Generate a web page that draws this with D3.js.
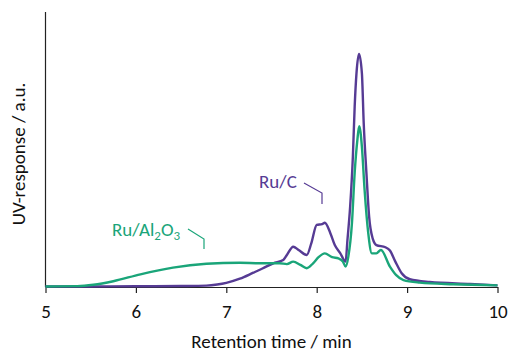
<!DOCTYPE html>
<html>
<head>
<meta charset="utf-8">
<script src="https://cdn.jsdelivr.net/npm/d3@7"></script>
<style>
  body { margin: 0; background: #fff; }
  text { font-family: Carlito, Lato, sans-serif; }
</style>
</head>
<body>
<svg id="chart" width="509" height="352"></svg>
<script>
// retention time (min) and UV response (a.u.)
var ruCTime = [5.0, 5.5, 6.0, 6.5, 6.78, 6.9, 7.0, 7.15, 7.3, 7.4, 7.52, 7.63, 7.67, 7.74, 7.8, 7.89, 7.94, 8.0, 8.06, 8.09, 8.15, 8.2, 8.26, 8.32, 8.34, 8.37, 8.4, 8.42, 8.44, 8.468, 8.5, 8.52, 8.55, 8.58, 8.62, 8.66, 8.76, 8.81, 8.87, 8.94, 9.03, 9.25, 9.7, 10.0]
var ruCValue = [0.2, 0.2, 0.25, 0.35, 0.5, 0.9, 1.5, 3.0, 5.2, 6.7, 8.6, 9.8, 11.6, 14.6, 13.4, 11.6, 15.8, 22.5, 22.8, 23.3, 19.6, 15.2, 12.3, 9.2, 17.0, 29.1, 47.2, 65.3, 77.4, 84.4, 77.4, 59.4, 41.3, 25.5, 17.5, 15.2, 14.4, 13.2, 9.2, 5.0, 2.8, 1.8, 1.1, 0.6]

var ruAlTime = [5.0, 5.35, 5.53, 5.75, 6.05, 6.41, 6.78, 7.15, 7.37, 7.59, 7.67, 7.74, 7.82, 7.89, 7.96, 8.02, 8.09, 8.17, 8.24, 8.29, 8.32, 8.35, 8.39, 8.42, 8.45, 8.47, 8.5, 8.53, 8.57, 8.61, 8.66, 8.71, 8.81, 8.88, 8.96, 9.14, 9.51, 10.0]
var ruAlValue = [0.2, 0.3, 0.8, 2.1, 4.6, 7.0, 8.4, 8.8, 8.6, 8.6, 8.3, 9.2, 8.0, 6.8, 8.6, 10.8, 12.2, 10.8, 10.4, 9.2, 7.4, 11.0, 23.2, 41.3, 53.3, 58.3, 50.8, 35.1, 19.6, 12.2, 12.2, 13.4, 7.4, 4.3, 2.5, 1.6, 1.0, 0.6]

var xTicks = [5, 6, 7, 8, 9, 10]

var purple = '#563b94'
var green = '#1aa579'

var svg = d3.select('#chart')

var x = d3.scaleLinear().domain([5, 10]).range([45.5, 497.5])
var y = d3.scaleLinear().domain([0, 100]).range([287, 11])

// x axis
var xAxis = d3.axisBottom(x)
  .tickValues(xTicks)
  .tickSize(6)
  .tickSizeOuter(0)
  .tickPadding(12)
  .tickFormat(d3.format('d'))

var gx = svg.append('g')
  .attr('transform', 'translate(0,' + y(0) + ')')
  .call(xAxis)
gx.select('.domain').attr('stroke', '#222').attr('stroke-width', 1.2)
gx.selectAll('.tick line').attr('stroke', '#222').attr('stroke-width', 1.2)
gx.selectAll('.tick text')
  .attr('fill', '#111')
  .style('font-size', '19px')
  .style('font-family', 'Carlito, Lato, sans-serif')

// y axis is just a line, no ticks
svg.append('line')
  .attr('x1', x(5)).attr('x2', x(5))
  .attr('y1', y(0)).attr('y2', 12)
  .attr('stroke', '#222')
  .attr('stroke-width', 1.2)

// axis titles
svg.append('text')
  .attr('x', (x(5) + x(10)) / 2)
  .attr('y', 348)
  .attr('text-anchor', 'middle')
  .attr('fill', '#111')
  .style('font-size', '19px')
  .text('Retention time / min')

svg.append('text')
  .attr('transform', 'translate(25,' + 154 + ') rotate(-90)')
  .attr('text-anchor', 'middle')
  .attr('fill', '#111')
  .style('font-size', '19px')
  .text('UV-response / a.u.')

// traces
var line = d3.line()
  .x(d => x(d[0]))
  .y(d => y(d[1]))
  .curve(d3.curveMonotoneX)

svg.append('path')
  .datum(d3.zip(ruCTime, ruCValue))
  .attr('d', line)
  .attr('fill', 'none')
  .attr('stroke', purple)
  .attr('stroke-width', 2.4)
  .attr('stroke-linejoin', 'round')

svg.append('path')
  .datum(d3.zip(ruAlTime, ruAlValue))
  .attr('d', line)
  .attr('fill', 'none')
  .attr('stroke', green)
  .attr('stroke-width', 2.4)
  .attr('stroke-linejoin', 'round')

// labels with leader lines
svg.append('text')
  .attr('x', 259)
  .attr('y', 188)
  .attr('fill', purple)
  .style('font-size', '19px')
  .text('Ru/C')

svg.append('path')
  .attr('d', 'M304,183 L322,193 L322,204')
  .attr('fill', 'none')
  .attr('stroke', purple)
  .attr('stroke-width', 1.2)

var alLabel = svg.append('text')
  .attr('x', 112)
  .attr('y', 236)
  .attr('fill', green)
  .style('font-size', '19px')
alLabel.append('tspan').text('Ru/Al')
alLabel.append('tspan').attr('dy', 4).style('font-size', '13px').text('2')
alLabel.append('tspan').attr('dy', -4).text('O')
alLabel.append('tspan').attr('dy', 4).style('font-size', '13px').text('3')

svg.append('path')
  .attr('d', 'M188,229 L204,239 L204,249')
  .attr('fill', 'none')
  .attr('stroke', green)
  .attr('stroke-width', 1.2)
</script>
</body>
</html>
